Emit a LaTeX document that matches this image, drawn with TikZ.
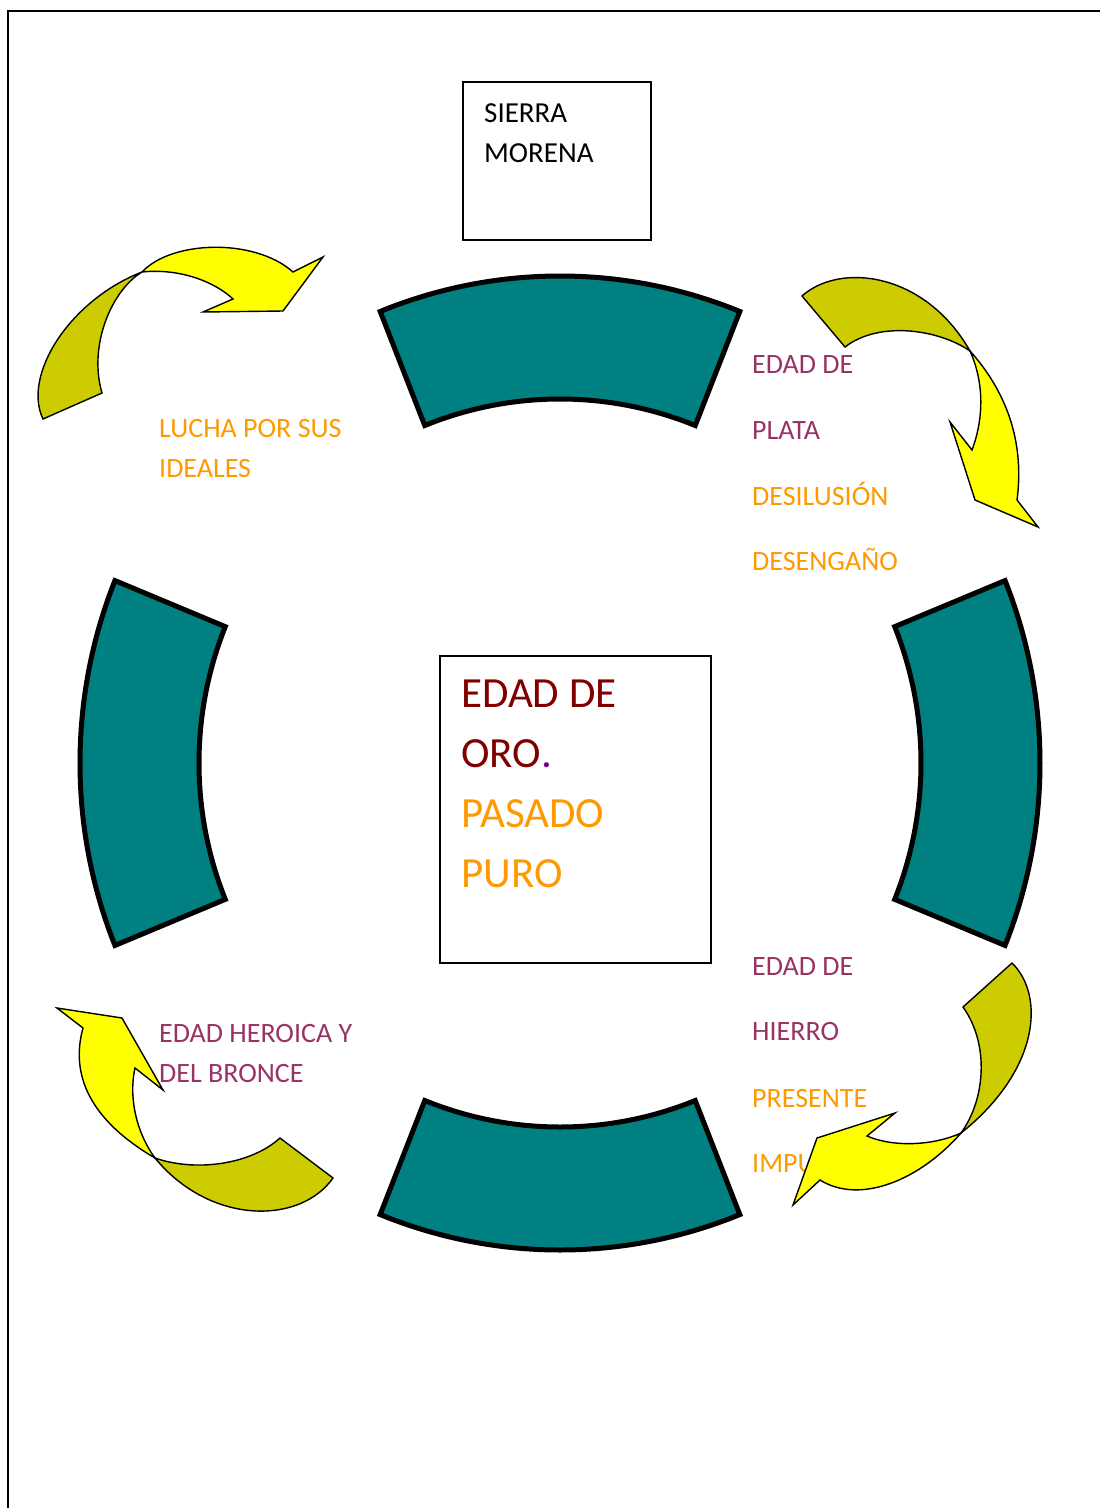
\documentclass[tikz,border=0pt]{standalone}
\usepackage{fontspec}
\setmainfont{Carlito}
\usepackage{tikz}
\usetikzlibrary{calc}
\definecolor{ringteal}{HTML}{008080}
\definecolor{arrolive}{HTML}{CCCC00}
\definecolor{arryellow}{HTML}{FFFF00}
\definecolor{txtplum}{HTML}{993366}
\definecolor{txtorange}{HTML}{FF9900}
\definecolor{txtred}{HTML}{800000}
\definecolor{txtviolet}{HTML}{800080}
\def\ringseg[#1](#2)(#3:#4){\draw[#1] ($(#2)+(#3:480 and 487)$) arc (#3:#4:480 and 487) -- ($(#2)+(#4:361 and 364)$) arc (#4:#3:361 and 364) -- cycle;}

\begin{document}
\begin{tikzpicture}[x=1pt, y=-1pt,
	seg/.style={fill=ringteal, line width=5},
	backside/.style={fill=arrolive, line width=1.4},
	frontside/.style={fill=arryellow, line width=1.4},
	boxed/.style={draw, line width=1.5, inner sep=0},
	small/.style={font=\fontsize{28}{34}\selectfont, anchor=base west, inner sep=0},
	big/.style={font=\fontsize{43}{50}\selectfont, anchor=base west, inner sep=0}]
			%%%%% START %%%%%
			\useasboundingbox (0,0) rectangle (1100,1508);
			\draw[line width=2] (8,1508) -- (8,11) -- (1100,11);
			
			\coordinate (mid) at (560,763);
			\ringseg[seg](mid)(-22:22);
			\ringseg[seg](mid)(68:112);
			\ringseg[seg](mid)(158:202);
			\ringseg[seg](mid)(248:292);
			
			\node[boxed, minimum width=188, minimum height=158] (sierrabox) at (557,161) {};
			\node[small, font=\fontsize{29}{34}\selectfont] (sierra1) at (484,122) {SIERRA};
			\node[small, font=\fontsize{29}{34}\selectfont] (sierra2) at (484,162) {MORENA};
			
			\node[boxed, minimum width=271, minimum height=307] (orobox) at (575.5,809.5) {};
			\node[big, txtred] (oro1) at (461,707) {EDAD DE};
			\node[big, txtred] (oro2) at (461,767) {ORO\textcolor{txtviolet}{.}};
			\node[big, txtorange] (oro3) at (461,827) {PASADO};
			\node[big, txtorange] (oro4) at (461,887) {PURO};
			
			\node[small, txtplum] (plata1) at (752,373) {EDAD DE};
			\node[small, txtplum] (plata2) at (752,439) {PLATA};
			\node[small, txtorange] (plata3) at (752,505) {DESILUSIÓN};
			\node[small, txtorange] (plata4) at (752,570) {DESENGAÑO};
			
			\node[small, txtplum] (hierro1) at (752,975) {EDAD DE};
			\node[small, txtplum] (hierro2) at (752,1040) {HIERRO};
			\node[small, txtorange] (hierro3) at (752,1107) {PRESENTE};
			\node[small, txtorange] (hierro4) at (752,1172) {IMPURO};
			
			\node[small, txtorange] (lucha1) at (159,437) {LUCHA POR SUS};
			\node[small, txtorange] (lucha2) at (159,477) {IDEALES};
			
			\node[small, txtplum] (bronce1) at (159,1042) {EDAD HEROICA Y};
			\node[small, txtplum] (bronce2) at (159,1082) {DEL BRONCE};
			
			% top left arrow
			\draw[backside] (43,419) .. controls (22,375) and (70,300) .. (142,272) .. controls (112,290) and (88,345) .. (102,393) -- cycle;
			\draw[frontside] (142,272) .. controls (172,240) and (255,238) .. (293,272) -- (323,257) -- (283,311) -- (203,312) -- (233,299) .. controls (215,282) and (180,268) .. (142,272) -- cycle;
			
			% top right arrow
			\draw[backside] (802,296) .. controls (840,262) and (925,272) .. (970,351) .. controls (940,330) and (880,320) .. (845,347) -- cycle;
			\draw[frontside] (970,351) .. controls (1005,390) and (1025,440) .. (1017,500) -- (1038,527) -- (975,500) -- (950,422) -- (972,450) .. controls (985,415) and (983,380) .. (970,351) -- cycle;
			
			% bottom right arrow
			\draw[backside] (1012,963) .. controls (1045,995) and (1040,1070) .. (961,1133) .. controls (985,1100) and (990,1045) .. (963,1007) -- cycle;
			\draw[frontside] (961,1133) .. controls (920,1180) and (860,1205) .. (820,1180) -- (793,1205) -- (817,1138) -- (895,1113) -- (867,1136) .. controls (895,1148) and (935,1145) .. (961,1133) -- cycle;
			
			% bottom left arrow
			\draw[backside] (280,1138) -- (333,1178) .. controls (300,1225) and (210,1225) .. (155,1158) .. controls (195,1172) and (250,1165) .. (280,1138) -- cycle;
			\draw[frontside] (155,1158) .. controls (90,1120) and (70,1075) .. (83,1028) -- (57,1008) -- (122,1018) -- (163,1090) -- (135,1068) .. controls (128,1100) and (138,1135) .. (155,1158) -- cycle;
			%%%%% END %%%%%
\end{tikzpicture}
\end{document}
